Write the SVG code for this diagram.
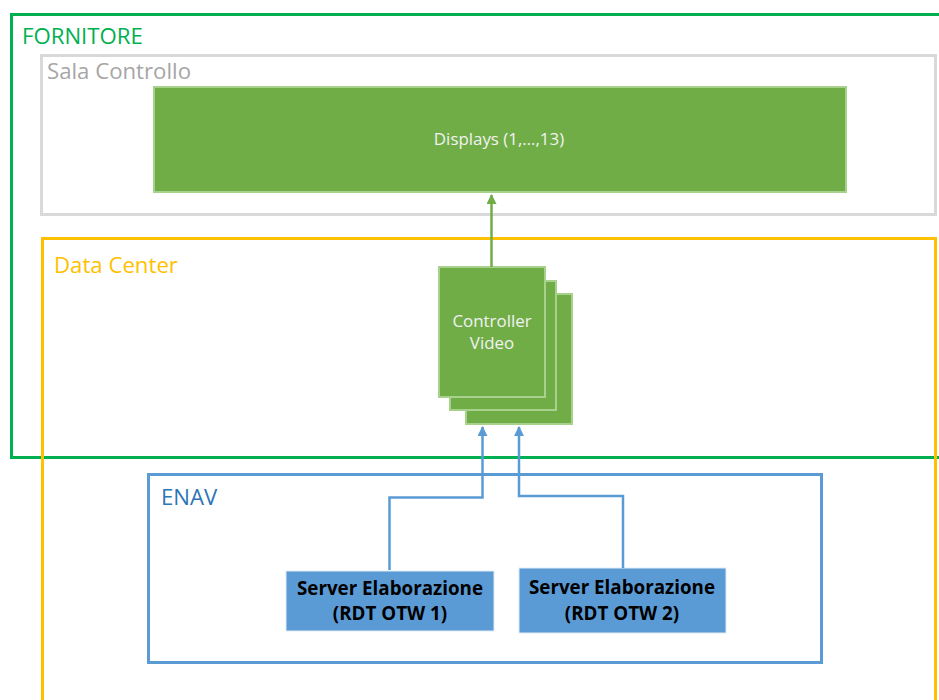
<svg xmlns="http://www.w3.org/2000/svg" width="939" height="700" viewBox="0 0 939 700">
<style>
text{font-family:"Open Sans",Lato,"Liberation Sans",sans-serif}
.zone{fill:none;stroke-width:3}
.title{font-size:22.2px}
.gbox{fill:#70AD47;stroke:#A9D18E;stroke-width:2}
.wt{fill:#F2F2F2;font-size:16.9px;text-anchor:middle}
.srv{fill:#5B9BD5;stroke:#DEEBF7;stroke-width:1}
.st{fill:#000;font-size:18.8px;font-weight:bold;text-anchor:middle}
.conn{fill:none;stroke-width:2.5}
</style>
<defs>
<marker id="ag" viewBox="0 0 10 10" refX="9" refY="5" markerWidth="4" markerHeight="4" orient="auto"><path d="M0,0 L10,5 L0,10 z" fill="#70AD47"/></marker>
<marker id="ab" viewBox="0 0 10 10" refX="9" refY="5" markerWidth="4" markerHeight="4" orient="auto"><path d="M0,0 L10,5 L0,10 z" fill="#5B9BD5"/></marker>
</defs>
<rect width="939" height="700" fill="#fff"/>
<g id="fornitore">
<rect class="zone" x="11.5" y="14.5" width="940" height="443" stroke="#00B050"/>
<text class="title" x="22" y="44" fill="#00B050">FORNITORE</text>
</g>
<g id="sala-controllo">
<rect class="zone" x="41.5" y="55.5" width="894" height="159" stroke="#D9D9D9"/>
<text class="title" x="47" y="79" fill="#A6A6A6">Sala Controllo</text>
</g>
<g id="data-center">
<rect class="zone" x="42.5" y="238.5" width="893" height="480" stroke="#FFC000"/>
<text class="title" x="54" y="273" fill="#FFC000">Data Center</text>
</g>
<g id="enav">
<rect class="zone" x="148.5" y="474.5" width="673" height="188" stroke="#5B9BD5"/>
<text class="title" x="161" y="505" fill="#2E75B6" font-size="21.8">ENAV</text>
</g>
<g id="displays">
<rect class="gbox" x="154" y="87" width="692" height="105"/>
<text class="wt" x="499" y="145" font-size="16.7">Displays (1,…,13)</text>
</g>
<g id="controller-video">
<rect class="gbox" x="466" y="294" width="106" height="130"/>
<rect class="gbox" x="450" y="281" width="106" height="129"/>
<rect class="gbox" x="439" y="267" width="106" height="130"/>
<text class="wt" x="492" y="326.5">Controller</text>
<text class="wt" x="492" y="349">Video</text>
</g>
<g id="server-1">
<rect class="srv" x="286" y="571" width="208" height="60"/>
<text class="st" x="390" y="595">Server Elaborazione</text>
<text class="st" x="390" y="620">(RDT OTW 1)</text>
</g>
<g id="server-2">
<rect class="srv" x="519" y="568" width="207" height="65"/>
<text class="st" x="622" y="594">Server Elaborazione</text>
<text class="st" x="622" y="620">(RDT OTW 2)</text>
</g>
<g id="connectors">
<path class="conn" d="M491.5,267 V195" stroke="#70AD47" marker-end="url(#ag)"/>
<path class="conn" d="M389.5,570 V497.5 H482.5 V427" stroke="#5B9BD5" marker-end="url(#ab)"/>
<path class="conn" d="M623,568 V496 H519 V427" stroke="#5B9BD5" marker-end="url(#ab)"/>
</g>
</svg>
